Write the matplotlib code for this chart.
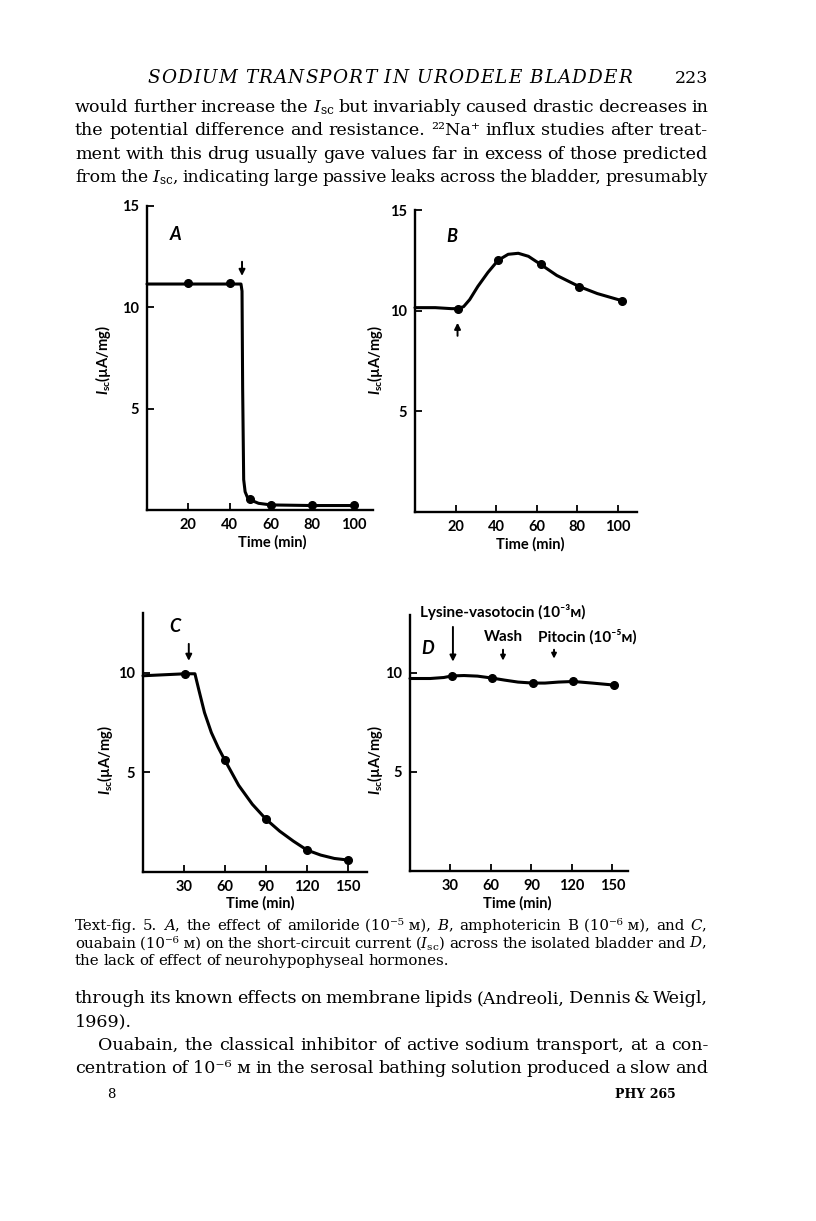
import matplotlib
matplotlib.use("Agg")
import matplotlib.pyplot as plt

# ---------------- data ----------------
# Panel A: amiloride
a_time = [20, 40, 50, 60, 80, 100]
a_isc = [11.2, 11.2, 0.55, 0.25, 0.25, 0.25]
a_trace_t = [0, 45.5, 46.0, 46.3, 46.8, 47.5, 48.5, 50, 54, 60, 80, 100]
a_trace_i = [11.15, 11.15, 10.8, 6.0, 1.5, 0.9, 0.65, 0.5, 0.33, 0.25, 0.22, 0.22]
a_xticks = [20, 40, 60, 80, 100]
a_yticks = [5, 10, 15]

# Panel B: amphotericin B
b_time = [21, 41, 62, 81, 102]
b_isc = [10.1, 12.5, 12.3, 11.2, 10.5]
b_trace_t = [0, 10, 18, 21, 24, 27, 31, 36, 41, 46, 51, 56, 62, 70, 81, 90, 102]
b_trace_i = [10.15, 10.15, 10.1, 10.1, 10.2, 10.55, 11.2, 11.9, 12.5, 12.8, 12.85, 12.7, 12.3, 11.75, 11.2, 10.85, 10.5]
b_xticks = [20, 40, 60, 80, 100]
b_yticks = [5, 10, 15]

# Panel C: ouabain
c_time = [31, 60, 90, 120, 150]
c_isc = [9.95, 5.6, 2.65, 1.1, 0.6]
c_trace_t = [0, 31, 38, 41, 45, 50, 55, 60, 70, 80, 90, 100, 110, 120, 130, 140, 150]
c_trace_i = [9.85, 9.95, 9.95, 9.1, 8.0, 7.0, 6.25, 5.6, 4.35, 3.4, 2.65, 2.05, 1.55, 1.1, 0.85, 0.68, 0.6]
c_xticks = [30, 60, 90, 120, 150]
c_yticks = [5, 10]

# Panel D: neurohypophyseal hormones
d_time = [31, 61, 91, 121, 151]
d_isc = [9.83, 9.72, 9.47, 9.55, 9.37]
d_trace_t = [0, 15, 25, 31, 40, 50, 61, 70, 80, 91, 100, 110, 121, 135, 151]
d_trace_i = [9.7, 9.7, 9.75, 9.83, 9.85, 9.82, 9.72, 9.62, 9.52, 9.47, 9.47, 9.52, 9.55, 9.47, 9.37]
d_xticks = [30, 60, 90, 120, 150]
d_yticks = [5, 10]

ylabel_text = r"$I_{\rm sc}$(µA/mg)"
xlabel_text = "Time (min)"

# ---------------- page text ----------------
header_words = ["SODIUM", "TRANSPORT", "IN", "URODELE", "BLADDER"]
page_number = "223"
body_top = [
    ["would", "further", "increase", "the", r"$I_{\rm sc}$", "but", "invariably", "caused", "drastic", "decreases", "in"],
    ["the", "potential", "difference", "and", "resistance.", "²²Na⁺", "influx", "studies", "after", "treat-"],
    ["ment", "with", "this", "drug", "usually", "gave", "values", "far", "in", "excess", "of", "those", "predicted"],
    ["from", "the", r"$I_{\rm sc}$,", "indicating", "large", "passive", "leaks", "across", "the", "bladder,", "presumably"],
]
caption = [
    ["Text-fig.", "5.", r"$A$,", "the", "effect", "of", "amiloride", "(10⁻⁵ ᴍ),", r"$B$,", "amphotericin", "B", "(10⁻⁶ ᴍ),", "and", r"$C$,"],
    ["ouabain", "(10⁻⁶ ᴍ)", "on", "the", "short-circuit", "current", r"($I_{\rm sc}$)", "across", "the", "isolated", "bladder", "and", r"$D$,"],
    ["the", "lack", "of", "effect", "of", "neurohypophyseal", "hormones."],
]
body_bottom = [
    ["through", "its", "known", "effects", "on", "membrane", "lipids", "(Andreoli,", "Dennis", "&", "Weigl,"],
    ["1969)."],
    ["Ouabain,", "the", "classical", "inhibitor", "of", "active", "sodium", "transport,", "at", "a", "con-"],
    ["centration", "of", "10⁻⁶ ᴍ", "in", "the", "serosal", "bathing", "solution", "produced", "a", "slow", "and"],
]
footer_left = "8"
footer_right = "PHY 265"

# ---------------- setup ----------------
plt.rcParams.update({
    "mathtext.fontset": "custom",
    "mathtext.rm": "Lato:bold",
    "mathtext.it": "Lato:italic:bold",
    "mathtext.bf": "Lato:bold",
})

W, H = 816, 1221
fig = plt.figure(figsize=(W / 100, H / 100), dpi=100)
fig.patch.set_facecolor("white")
renderer = fig.canvas.get_renderer()

SERIF = ["DejaVu Serif", "DejaVu Sans"]
SANS = ["Lato", "DejaVu Sans"]


def place_line(words, x0, x1, yb, size, justify=True, style="normal", weight="normal"):
    """Place words on a baseline yb (pixels from top) between x0 and x1."""
    s = size
    while True:
        texts = [fig.text(0, 0, w, fontsize=s, family=SERIF, style=style, weight=weight,
                          math_fontfamily="dejavuserif", ha="left", va="baseline")
                 for w in words]
        widths = [t.get_window_extent(renderer).width for t in texts]
        space = 0.28 * s * 100 / 72
        n = len(words)
        if justify and n > 1:
            gap = (x1 - x0 - sum(widths)) / (n - 1)
            if gap < 0.55 * space and s > 6:
                for t in texts:
                    t.remove()
                s -= 0.2
                continue
        else:
            gap = space
        break
    x = x0
    for t, w in zip(texts, widths):
        t.set_position((x / W, 1 - yb / H))
        x += w + gap
    return s


def place_spaced(words, x0, x1, yb, size, style="italic"):
    """Letter-spaced line: characters spread evenly between x0 and x1."""
    chars = []
    for wi, w in enumerate(words):
        if wi:
            chars.append(" ")
        chars.extend(list(w))
    texts = [fig.text(0, 0, c, fontsize=size, family=SERIF, style=style,
                      ha="left", va="baseline") for c in chars]
    widths = []
    for c, t in zip(chars, texts):
        widths.append(0.3 * size * 100 / 72 if c == " " else t.get_window_extent(renderer).width)
    track = (x1 - x0 - sum(widths)) / (len(chars) - 1)
    x = x0
    for t, w in zip(texts, widths):
        t.set_position((x / W, 1 - yb / H))
        x += w + track


# header
place_spaced(header_words, 147, 632, 83, 13.2)
fig.text(708 / W, 1 - 83 / H, page_number, fontsize=12.5, family=SERIF, ha="right", va="baseline")

# body text top
for i, words in enumerate(body_top):
    place_line(words, 75, 708, 112 + i * 23.3, 12.6)

# caption
cap_size = 10.8
for i, words in enumerate(caption):
    if i < len(caption) - 1:
        cap_size = min(cap_size, place_line(words, 75, 707, 930 + i * 17.5, 10.8))
    else:
        place_line(words, 75, 707, 930 + i * 17.5, cap_size, justify=False)

# body text bottom
bb_y = [1003, 1026, 1050, 1073]
for i, words in enumerate(body_bottom):
    x0 = 98 if i == 2 else 75
    place_line(words, x0, 708, bb_y[i], 12.6, justify=(i != 1))

fig.text(111 / W, 1 - 1098 / H, footer_left, fontsize=9.5, family=SERIF, ha="center", va="baseline")
fig.text(615 / W, 1 - 1098 / H, footer_right, fontsize=9, family=SERIF, weight="bold",
         ha="left", va="baseline")


# ---------------- panels ----------------
def make_axes(left, right, bottom, top, xlim, ylim, xticks, yticks):
    ax = fig.add_axes([left / W, 1 - bottom / H, (right - left) / W, (bottom - top) / H])
    ax.set_xlim(*xlim)
    ax.set_ylim(*ylim)
    for sp in ("top", "right"):
        ax.spines[sp].set_visible(False)
    for sp in ("left", "bottom"):
        ax.spines[sp].set_linewidth(1.7)
    ax.set_xticks(xticks)
    ax.set_yticks(yticks)
    ax.tick_params(direction="in", length=5, width=1.3, labelsize=10.5, pad=6)
    for lab in ax.get_xticklabels() + ax.get_yticklabels():
        lab.set_family(SANS)
        lab.set_weight("bold")
    ax.set_facecolor("none")
    return ax


def draw_series(ax, tt, ti, pt, pi):
    ax.plot(tt, ti, color="black", lw=2.2, solid_capstyle="round", solid_joinstyle="round",
            clip_on=False)
    ax.plot(pt, pi, "o", color="black", ms=5.5, clip_on=False)


def arrow(ax, x, tail, tip, scale=9):
    ax.annotate("", xy=(x, tip), xytext=(x, tail),
                arrowprops=dict(arrowstyle="-|>", lw=1.4, color="black",
                                mutation_scale=scale, shrinkA=0, shrinkB=0))


def labels(ax, ylx, yly, xlx, xly):
    fig.text(ylx / W, 1 - yly / H, ylabel_text, rotation=90, fontsize=10.5, family=SANS,
             weight="bold", ha="center", va="center", math_fontfamily="custom")
    fig.text(xlx / W, 1 - xly / H, xlabel_text, fontsize=10.5, family=SANS,
             weight="bold", ha="center", va="center")


# A
axA = make_axes(147, 373, 510, 206, (0, 109.4), (0, 15), a_xticks, a_yticks)
draw_series(axA, a_trace_t, a_trace_i, a_time, a_isc)
arrow(axA, 46, 12.25, 11.55)
axA.text(13.6, 13.6, "A", fontsize=13, family=SANS, style="italic", weight="bold",
         ha="center", va="center")
labels(axA, 103, 360, 272, 542)

# B
axB = make_axes(415, 637, 512, 210, (0, 109.6), (0, 15), b_xticks, b_yticks)
draw_series(axB, b_trace_t, b_trace_i, b_time, b_isc)
arrow(axB, 21, 8.75, 9.4)
axB.text(18.3, 13.7, "B", fontsize=13, family=SANS, style="italic", weight="bold",
         ha="center", va="center")
labels(axB, 375, 360, 530, 544)

# C
axC = make_axes(143, 367, 872, 613, (0, 163.9), (0, 13.0), c_xticks, c_yticks)
draw_series(axC, c_trace_t, c_trace_i, c_time, c_isc)
arrow(axC, 33.5, 11.45, 10.6)
axC.text(23.4, 12.3, "C", fontsize=13, family=SANS, style="italic", weight="bold",
         ha="center", va="center")
labels(axC, 105, 760, 260, 903)

# D
axD = make_axes(410, 628, 871, 615, (0, 161.5), (0, 12.9), d_xticks, d_yticks)
draw_series(axD, d_trace_t, d_trace_i, d_time, d_isc)
arrow(axD, 31.8, 12.3, 10.55)
arrow(axD, 68.9, 11.15, 10.6, scale=7)
arrow(axD, 106.7, 11.15, 10.7, scale=7)
axD.text(13.3, 11.2, "D", fontsize=13, family=SANS, style="italic", weight="bold",
         ha="center", va="center")
axD.text(7.5, 13.05, "Lysine-vasotocin (10⁻³ᴍ)", fontsize=11, family=SANS, weight="bold",
         ha="left", va="center", clip_on=False)
axD.text(68.9, 11.8, "Wash", fontsize=11, family=SANS, weight="bold",
         ha="center", va="center", clip_on=False)
axD.text(94.5, 11.8, "Pitocin (10⁻⁵ᴍ)", fontsize=11, family=SANS, weight="bold",
         ha="left", va="center", clip_on=False)
labels(axD, 375, 760, 517, 903)

fig.savefig("out.png", dpi=100, facecolor="white")
